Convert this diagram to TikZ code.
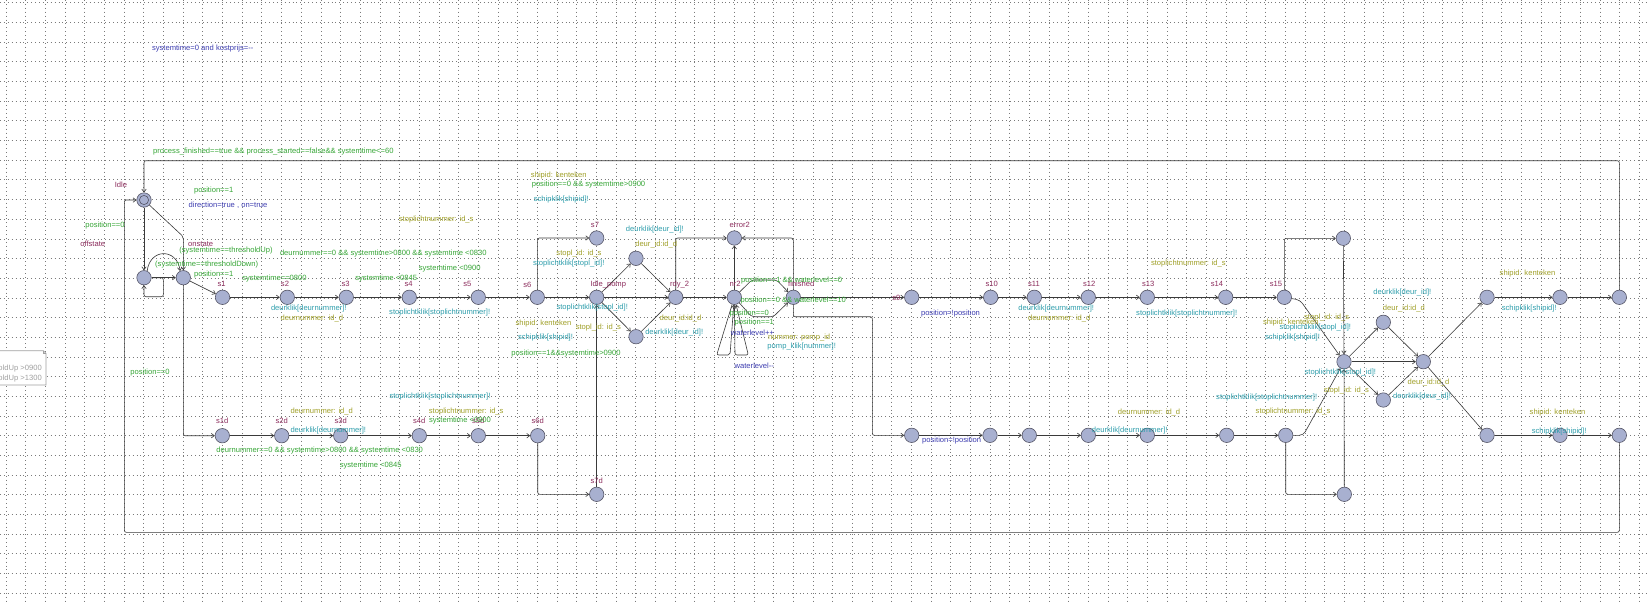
\documentclass[tikz,border=0pt]{standalone}
\usepackage{fontspec}
\setmainfont{Liberation Sans}
\usetikzlibrary{arrows.meta}
\definecolor{locc}{HTML}{8C2C5C}
\definecolor{guardc}{HTML}{36A636}
\definecolor{updc}{HTML}{3C3CB0}
\definecolor{syncc}{HTML}{2E9EAC}
\definecolor{selc}{HTML}{A0A028}
\definecolor{commc}{HTML}{A0A0A0}
\definecolor{locfill}{HTML}{A8B0D0}
\definecolor{locborder}{HTML}{555566}
\definecolor{edgec}{HTML}{3A3A3A}
\definecolor{gridc}{HTML}{7A7A7A}
\tikzset{
  lbl/.style={inner sep=0pt, font=\fontsize{7.6}{9}\selectfont},
  lname/.style={lbl, text=locc},
  lguard/.style={lbl, text=guardc},
  lupd/.style={lbl, text=updc},
  lsync/.style={lbl, text=syncc},
  lsel/.style={lbl, text=selc},
  lcomm/.style={lbl, text=commc},
  loc/.style={circle, draw=locborder, fill=locfill, line width=0.6pt, minimum size=14.4pt, inner sep=0pt},
  edge/.style={draw=edgec, line width=0.6pt, rounded corners=2pt, -{Straight Barb[length=3pt,width=4.5pt]}},
  gridl/.style={draw=gridc, line width=0.7pt, dash pattern=on 0.7pt off 3.2pt},
}
\begin{document}
\begin{tikzpicture}[x=1pt,y=-1pt]
\useasboundingbox (0,0) rectangle (1648,603);
\fill[white] (0,0) rectangle (1648,603);
% grid
\foreach \i in {0,...,83} \draw[gridl] ({6+19.68*\i},0) -- ({6+19.68*\i},603);
\foreach \j in {0,...,30} \draw[gridl] (0,{2.7+19.68*\j}) -- (1648,{2.7+19.68*\j});

% note box
\draw[commc, line width=0.6pt, fill=white] (-5,350.7) -- (43.3,350.7) -- (46,353.4) -- (46,385) -- (-5,385) -- cycle;
\draw[commc, line width=0.5pt] (43.3,350.7) -- (43.3,353.4) -- (46,353.4);
\node[lcomm, anchor=east] (C1) at (42,368.3) {thresholdUp >0900};
\node[lcomm, anchor=east] (C2) at (42,379) {thresholdUp >1300};

% locations
\node[loc] (idle) at (144,200) {};
\draw[locborder, line width=0.6pt] (idle.center) circle (4.6pt);
\node[loc] (off) at (144,277.7) {};
\node[loc] (on) at (183.3,277.7) {};
\node[loc] (s1) at (222.5,297.3) {};
\node[loc] (s2) at (287.3,297.3) {};
\node[loc] (s3) at (346.3,297.3) {};
\node[loc] (s4) at (409.3,297.3) {};
\node[loc] (s5) at (478.3,297.3) {};
\node[loc] (s6) at (537.3,297.3) {};
\node[loc] (s7) at (596.7,238) {};
\node[loc] (ip) at (596.7,297.3) {};
\node[loc] (du) at (636,258.3) {};
\node[loc] (dl) at (636,336.7) {};
\node[loc] (rdy) at (675.7,297.3) {};
\node[loc] (err) at (734.3,238) {};
\node[loc] (nr) at (734.3,297.3) {};
\node[loc] (fin) at (793.3,297.3) {};
\node[loc] (s9) at (911.7,297.3) {};
\node[loc] (s10) at (990.7,297.3) {};
\node[loc] (s11) at (1034.3,297.3) {};
\node[loc] (s12) at (1088.3,297.3) {};
\node[loc] (s13) at (1147.3,297.3) {};
\node[loc] (s14) at (1225.7,297.3) {};
\node[loc] (s15) at (1284.3,297.3) {};
\node[loc] (t1) at (1343.3,238.3) {};
\node[loc] (h1) at (1344,361.7) {};
\node[loc] (u1) at (1383.3,322.3) {};
\node[loc] (l1) at (1383.3,400) {};
\node[loc] (h2) at (1423.3,361.7) {};
\node[loc] (r1) at (1487,297.3) {};
\node[loc] (r1b) at (1560,297.3) {};
\node[loc] (r1c) at (1619.3,297.3) {};
\node[loc] (r2) at (1487,435.3) {};
\node[loc] (r2b) at (1560,435.3) {};
\node[loc] (r2c) at (1619.3,435.3) {};
\node[loc] (s1d) at (222.3,435.7) {};
\node[loc] (s2d) at (281.7,435.7) {};
\node[loc] (s3d) at (340.7,435.7) {};
\node[loc] (s4d) at (419.3,435.7) {};
\node[loc] (s5d) at (478.3,435.7) {};
\node[loc] (s6d) at (537.7,435.7) {};
\node[loc] (s7d) at (596.7,494.3) {};
\node[loc] (b1) at (911.7,435.3) {};
\node[loc] (b2) at (990,435.3) {};
\node[loc] (b3) at (1029.3,435.3) {};
\node[loc] (b4) at (1088.3,435.3) {};
\node[loc] (b5) at (1147.3,435.3) {};
\node[loc] (b6) at (1226.7,435.3) {};
\node[loc] (b7) at (1285.7,435.3) {};
\node[loc] (bb) at (1344.3,494.3) {};

% nails
\coordinate (topR) at (1619.3,160.7);
\coordinate (topL) at (144,160.7);
\coordinate (botR) at (1619.3,532.3);
\coordinate (botL) at (124.3,532.3);
\coordinate (leftT) at (124.3,200);
\coordinate (n1) at (183.3,236.7);
\coordinate (la) at (163.3,277.7);
\coordinate (lb) at (163.3,296.7);
\coordinate (lc) at (144,296.7);
\coordinate (hu1) at (751.7,280);
\coordinate (hu2) at (776.7,280);
\coordinate (hl1) at (751.7,316.7);
\coordinate (hl2) at (773.3,316.7);
\coordinate (p1a) at (716.7,355);
\coordinate (p1b) at (730,355);
\coordinate (p2a) at (735,355);
\coordinate (p2b) at (748.3,355);
\coordinate (f1) at (793.3,316.7);
\coordinate (f2) at (872.3,316.7);
\coordinate (k15) at (1300,300);
\coordinate (k7) at (1303.3,435.3);

% edges
\draw[edge] (r1c) -- (topR) -- (topL) -- (idle);
\draw[edge] (r2c) -- (botR) -- (botL) -- (leftT) -- (idle);
\draw[edge] (idle) -- (off);
\draw[edge] (idle) -- (n1) -- (on);
\draw[edge] (off) -- (on);
\draw[edge] (off.65) .. controls (150,248) and (177,248) .. (on.115);
\draw[edge] (off) -- (la) -- (lb) -- (lc) -- (off);
\draw[edge] (on) -- (s1);
\draw[edge] (on) |- (s1d);
\draw[edge] (s1) -- (s2);
\draw[edge] (s2) -- (s3);
\draw[edge] (s3) -- (s4);
\draw[edge] (s4) -- (s5);
\draw[edge] (s5) -- (s6);
\draw[edge] (s6) -- (ip);
\draw[edge] (s6) |- (s7);
\draw[edge] (ip) -- (du);
\draw[edge] (du) -- (rdy);
\draw[edge] (ip) -- (rdy);
\draw[edge] (ip) -- (dl);
\draw[edge] (dl) -- (rdy);
\draw[edge] (s7d) -- (ip);
\draw[edge] (rdy) |- (err);
\draw[edge] (rdy) -- (nr);
\draw[edge] (nr) -- (err);
\draw[edge] (fin) |- (err);
\draw[edge] (nr) -- (hu1) -- (hu2) -- (fin);
\draw[edge] (nr) -- (hl1) -- (hl2) -- (fin);
\draw[edge] (nr) -- (p1a) -- (p1b) -- (nr);
\draw[edge] (nr) -- (p2a) -- (p2b) -- (nr);
\draw[edge] (fin) -- (s9);
\draw[edge] (fin) -- (f1) -- (f2) |- (b1);
\draw[edge] (s9) -- (s10);
\draw[edge] (s10) -- (s11);
\draw[edge] (s11) -- (s12);
\draw[edge] (s12) -- (s13);
\draw[edge] (s13) -- (s14);
\draw[edge] (s14) -- (s15);
\draw[edge] (s15) |- (t1);
\draw[edge] (t1) -- (h1);
\draw[edge, rounded corners=4pt] (s15) -- (k15) -- (h1);
\draw[edge] (h1) -- (u1);
\draw[edge] (u1) -- (h2);
\draw[edge] (h1) -- (h2);
\draw[edge] (h1) -- (l1);
\draw[edge] (l1) -- (h2);
\draw[edge] (h2) -- (r1);
\draw[edge] (h2) -- (r2);
\draw[edge] (r1) -- (r1b);
\draw[edge] (r1b) -- (r1c);
\draw[edge] (r2) -- (r2b);
\draw[edge] (r2b) -- (r2c);
\draw[edge] (s1d) -- (s2d);
\draw[edge] (s2d) -- (s3d);
\draw[edge] (s3d) -- (s4d);
\draw[edge] (s4d) -- (s5d);
\draw[edge] (s5d) -- (s6d);
\draw[edge] (s6d) |- (s7d);
\draw[edge] (b1) -- (b2);
\draw[edge] (b2) -- (b3);
\draw[edge] (b3) -- (b4);
\draw[edge] (b4) -- (b5);
\draw[edge] (b5) -- (b6);
\draw[edge] (b6) -- (b7);
\draw[edge, rounded corners=4pt] (b7) -- (k7) -- (h1);
\draw[edge] (b7) |- (bb);
\draw[edge] (bb) -- (h1);

% location names
\node[lname] (Nidle) at (121,185) {Idle};
\node[lname] (Noff) at (92.7,244) {offstate};
\node[lname] (Non) at (200.7,244) {onstate};
\node[lname] (Ns1) at (221.7,284.3) {s1};
\node[lname] (Ns2) at (285,284.3) {s2};
\node[lname] (Ns3) at (345.7,284.3) {s3};
\node[lname] (Ns4) at (408.7,284.3) {s4};
\node[lname] (Ns5) at (467.3,284.3) {s5};
\node[lname] (Ns6) at (527.3,284.7) {s6};
\node[lname] (Ns7) at (595,225) {s7};
\node[lname] (Nip) at (608.3,284.7) {Idle\_pomp};
\node[lname] (Nrdy) at (679.5,284.7) {rdy\_2};
\node[lname] (Nerr) at (739.7,225) {error2};
\node[lname] (Nnr) at (735,284.3) {nr2};
\node[lname] (Nfin) at (801.3,284) {finished};
\node[lname] (Ns9) at (896.3,297.7) {s9};
\node[lname] (Ns10) at (991.7,284) {s10};
\node[lname] (Ns11) at (1034,284) {s11};
\node[lname] (Ns12) at (1089.3,284) {s12};
\node[lname] (Ns13) at (1148.3,284) {s13};
\node[lname] (Ns14) at (1217,284) {s14};
\node[lname] (Ns15) at (1276,284) {s15};
\node[lname] (Ns1d) at (222.3,420.7) {s1d};
\node[lname] (Ns2d) at (281.7,420.7) {s2d};
\node[lname] (Ns3d) at (340.7,420.7) {s3d};
\node[lname] (Ns4d) at (419.3,420.7) {s4d};
\node[lname] (Ns5d) at (478.3,420.7) {s5d};
\node[lname] (Ns6d) at (537.7,420.7) {s6d};
\node[lname] (Ns7d) at (596.7,481) {s7d};

% guards
\node[lguard] (G1) at (105,225.7) {position==0};
\node[lguard] (G2) at (213.7,190.7) {position==1};
\node[lguard] (G3) at (226,250.7) {(systemtime==thresholdUp)};
\node[lguard] (G4) at (206.7,264.7) {(systemtime==thresholdDown)};
\node[lguard] (G5) at (213.7,274.3) {position==1};
\node[lguard] (G6) at (274.5,279) {systemtime==0800};
\node[lguard] (G7) at (383.3,253.3) {deurnummer==0 \&\& systemtime>0800 \&\& systemtime <0830};
\node[lguard] (G8) at (386.2,279) {systemtime <0845};
\node[lguard] (G9) at (449.7,269) {systemtime <0900};
\node[lguard] (G10) at (150,372.3) {position==0};
\node[lguard, anchor=west] (G11) at (153,151.7) {process\_finished==true \&\& process\_started==false\&\& systemtime<=60};
\node[lguard] (G12) at (588.5,185) {position==0 \&\& systemtime>0900};
\node[lguard] (G13) at (566,353.3) {position==1\&\&systemtime>0900};
\node[lguard] (G14) at (791.7,280.7) {position==1 \&\& waterlevel==0};
\node[lguard] (G15) at (793.3,300.7) {position==0 \&\& waterlevel==10};
\node[lguard] (G16) at (749.3,313.3) {position==0};
\node[lguard] (G17) at (754.3,322.7) {position==1};
\node[lguard] (G18) at (319.7,451) {deurnummer==0 \&\& systemtime>0800 \&\& systemtime <0830};
\node[lguard] (G19) at (370.7,465.7) {systemtime <0845};
\node[lguard] (G20) at (460,420.7) {systemtime <0900};

% updates
\node[lupd] (U1) at (228,205) {direction=true , on=true};
\node[lupd] (U2) at (202.7,48.3) {systemtime=0 and kostprijs=-{}-};
\node[lupd] (U3) at (752.5,332.7) {waterlevel++};
\node[lupd] (U4) at (754.3,365.7) {waterlevel-{}-};
\node[lupd] (U5) at (950.5,313.3) {position=!position};
\node[lupd] (U6) at (951.7,441) {position=!position};

% syncs
\node[lsync] (Y1) at (308.8,308.3) {deurklik[deurnummer]!};
\node[lsync] (Y2) at (439.7,312.7) {stoplichtklik[stoplichtnummer]!};
\node[lsync] (Y3) at (561.3,200) {schipklik[shipid]!};
\node[lsync] (Y4) at (654.8,229.3) {deurklik[deur\_id]!};
\node[lsync] (Y5) at (568.7,264) {stoplichtklik[stopl\_id]!};
\node[lsync] (Y6) at (592.2,307.3) {stoplichtklik[stopl\_id]!};
\node[lsync] (Y7) at (545.5,337.7) {schipklik[shipid]!};
\node[lsync] (Y8) at (674.2,332.7) {deurklik[deur\_id]!};
\node[lsync] (Y9) at (801.7,346.7) {pomp\_klik[nummer]!};
\node[lsync] (Y10) at (1056.2,308.3) {deurklik[deurnummer]!};
\node[lsync] (Y11) at (1186.7,313.3) {stoplichtklik[stoplichtnummer]!};
\node[lsync] (Y12) at (1315.3,327.7) {stoplichtklik[stopl\_id]!};
\node[lsync] (Y13) at (1292.5,337.7) {schipklik[shipid]!};
\node[lsync] (Y14) at (1402.3,292.7) {deurklik[deur\_id]!};
\node[lsync] (Y15) at (1340.3,372.3) {stoplichtklik[stopl\_id]!};
\node[lsync] (Y16) at (1422,396.7) {deurklik[deur\_id]!};
\node[lsync] (Y17) at (1266.7,397.3) {stoplichtklik[stoplichtnummer]!};
\node[lsync] (Y18) at (1529.2,308.3) {schipklik[shipid]!};
\node[lsync] (Y19) at (1559.2,431.3) {schipklik[shipid]!};
\node[lsync] (Y20) at (328.3,430.7) {deurklik[deurnummer]!};
\node[lsync] (Y21) at (440,396.7) {stoplichtklik[stoplichtnummer]!};
\node[lsync] (Y22) at (1129.7,431) {deurklik[deurnummer]!};

% selects
\node[lsel] (S1) at (311.8,318.3) {deurnummer: id\_d};
\node[lsel] (S2) at (436.2,220) {stoplichtnummer: id\_s};
\node[lsel] (S3) at (558.8,176) {shipid: kenteken};
\node[lsel] (S4) at (656.2,244) {deur\_id:id\_d};
\node[lsel] (S5) at (579,254) {stopl\_id: id\_s};
\node[lsel] (S6) at (543.5,323.3) {shipid: kenteken};
\node[lsel] (S7) at (598.3,327.7) {stopl\_id: id\_s};
\node[lsel] (S8) at (680.5,318.3) {deur\_id:id\_d};
\node[lsel] (S9) at (799.2,337.7) {nummer: pomp\_id};
\node[lsel] (S10) at (1059.2,318.3) {deurnummer: id\_d};
\node[lsel] (S11) at (1188.3,264) {stoplichtnummer: id\_s};
\node[lsel] (S12) at (1326.7,317.3) {stopl\_id: id\_s};
\node[lsel] (S13) at (1290.8,322.3) {shipid: kenteken};
\node[lsel] (S14) at (1403.8,308.3) {deur\_id:id\_d};
\node[lsel] (S15) at (1428.5,382.3) {deur\_id:id\_d};
\node[lsel] (S16) at (1346.3,391) {stopl\_id: id\_s};
\node[lsel] (S17) at (1293,411.7) {stoplichtnummer: id\_s};
\node[lsel] (S18) at (1527.5,274) {shipid: kenteken};
\node[lsel] (S19) at (1557.5,412.5) {shipid: kenteken};
\node[lsel] (S20) at (321.7,411.7) {deurnummer: id\_d};
\node[lsel] (S21) at (466.2,411.7) {stoplichtnummer: id\_s};
\node[lsel] (S22) at (1149,412.3) {deurnummer: id\_d};
\end{tikzpicture}
\end{document}
